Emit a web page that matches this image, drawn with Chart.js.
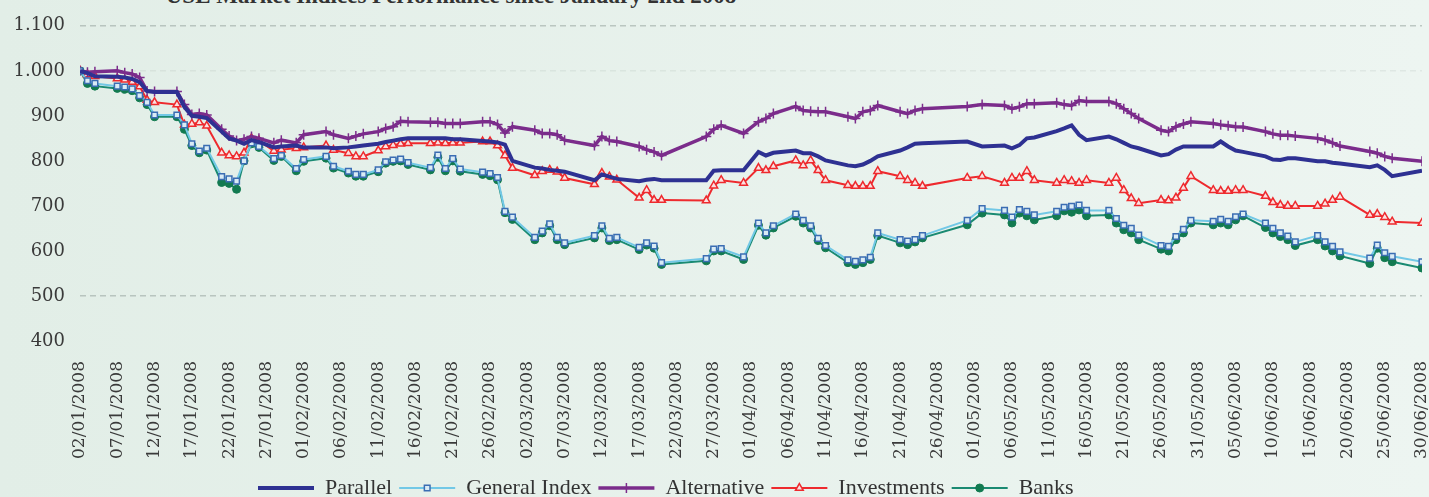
<!DOCTYPE html>
<html lang="en">
<head>
<meta charset="UTF-8">
<title>USE Market Indices Performance</title>
<script src="https://cdn.jsdelivr.net/npm/chart.js"></script>
<style>
  html, body { margin: 0; padding: 0; }
  body {
    width: 1429px; height: 497px; overflow: hidden; position: relative;
    background: linear-gradient(to right, #e2eee7, #edf5f1);
  }
  #title {
    position: absolute; left: 0; top: -16px; width: 902px; text-align: center;
    font: bold 23px 'Liberation Serif', 'Times New Roman', serif; line-height: 23px;
    color: #333; white-space: nowrap;
  }
  #wrap { position: absolute; left: 0; top: 0; width: 1429px; height: 497px; }
</style>
</head>
<body>
<div id="title">USE Market Indices Performance since January 2nd 2008</div>
<div id="wrap"><canvas id="chart" width="1429" height="497"></canvas></div>

<script>
// trading days (dd/mm, 2008)
const tradingDays = [
  '02/01','03/01','04/01','07/01','08/01','09/01','10/01','11/01','12/01','15/01','16/01','17/01','18/01','19/01','21/01','22/01','23/01','24/01','25/01','26/01','28/01','29/01','31/01',
  '01/02','04/02','05/02','07/02','08/02','09/02','11/02','12/02','13/02','14/02','15/02','18/02','19/02','20/02','21/02','22/02','25/02','26/02','27/02','28/02','29/02',
  '03/03','04/03','05/03','06/03','07/03','11/03','12/03','13/03','14/03','17/03','18/03','19/03','20/03','26/03','27/03','28/03','31/03',
  '02/04','03/04','04/04','07/04','08/04','09/04','10/04','11/04','14/04','15/04','16/04','17/04','18/04','21/04','22/04','23/04','24/04','30/04',
  '02/05','05/05','06/05','07/05','08/05','09/05','12/05','13/05','14/05','15/05','16/05','19/05','20/05','21/05','22/05','23/05','26/05','27/05','28/05','29/05','30/05',
  '02/06','03/06','04/06','05/06','06/06','09/06','10/06','11/06','12/06','13/06','16/06','17/06','18/06','19/06','23/06','24/06','25/06','26/06','30/06'
];

const parallel = [
  1000,995,988,987,985,982,975,955,953,953,920,900,898,895,865,850,845,838,846,842,830,832,834,
  830,830,828,830,832,834,838,842,845,848,850,850,850,850,848,848,844,843,841,836,800,
  785,783,780,778,776,757,770,765,760,755,758,760,757,757,778,779,779,
  820,812,818,823,817,817,810,801,790,788,792,800,810,823,830,838,839,843,
  832,834,828,835,850,852,866,872,879,858,846,854,848,840,832,828,812,815,825,832,832,
  832,843,832,823,820,810,803,802,806,806,799,799,796,794,786,790,780,766,778
];

const generalIndex = [
  1000,978,972,966,964,960,945,930,902,902,880,838,822,828,765,760,755,800,840,832,805,812,783,
  803,810,788,777,770,770,780,798,802,804,796,785,813,783,805,782,775,772,763,688,675,
  630,644,660,630,618,634,656,628,630,608,618,611,574,583,604,605,587,
  662,640,656,682,668,656,628,612,580,577,580,586,640,625,622,625,634,668,
  694,690,675,692,688,680,688,697,699,702,690,690,672,657,650,635,612,610,632,648,668,
  666,670,666,676,682,662,650,640,633,620,634,620,610,598,584,613,596,588,576
];

const alternative = [
  1000,997,998,1000,996,993,985,955,954,954,925,903,905,902,870,855,845,848,854,850,840,846,840,
  858,865,858,850,855,860,865,872,876,888,887,886,886,883,883,883,887,887,881,862,876,
  868,861,861,858,846,834,854,845,843,832,825,820,812,854,870,879,861,
  887,894,905,921,912,910,909,909,898,894,909,912,923,909,905,912,916,921,
  925,923,916,920,927,927,929,925,923,934,932,932,927,916,905,894,868,865,876,882,887,
  883,880,878,876,875,865,860,857,857,855,850,846,840,833,821,817,810,806,799
];

const investments = [
  1000,992,988,983,980,975,965,935,930,925,880,882,885,878,818,812,810,818,850,845,822,825,828,
  830,834,824,817,810,810,823,832,835,838,839,839,840,839,840,840,843,843,834,812,784,
  768,777,780,776,762,748,773,765,758,718,735,713,713,712,745,757,751,
  784,779,788,801,790,801,779,757,746,744,744,744,777,766,757,751,744,762,
  766,751,762,762,777,757,751,757,755,751,757,751,762,735,717,706,713,712,718,740,766,
  735,733,733,735,735,722,708,702,700,700,700,705,713,720,680,682,675,665,662
];

const banks = [
  1000,972,966,961,959,956,940,925,898,898,870,834,818,824,752,750,737,800,838,830,801,810,778,
  799,806,784,773,766,766,776,795,799,800,792,780,808,778,800,777,770,767,758,685,670,
  625,640,656,625,614,629,651,623,625,603,613,606,570,578,600,600,581,
  657,635,651,677,662,651,623,607,574,570,574,581,634,618,614,620,629,658,
  684,680,662,684,678,669,678,689,686,691,678,680,662,647,640,625,604,600,625,640,662,
  658,662,658,669,678,652,640,632,625,612,625,611,600,589,572,606,585,576,562
];

const yMin = 400, yMax = 1100, yStep = 100;
const dayMs = 86400000;
const startDate = new Date(2008, 0, 2);

function dayOffset(s) {
  const [d, m] = s.split('/').map(Number);
  return Math.round((new Date(2008, m - 1, d) - startDate) / dayMs);
}
function dayLabel(v) {
  const dt = new Date(2008, 0, 2 + v);
  const dd = String(dt.getDate()).padStart(2, '0');
  const mm = String(dt.getMonth() + 1).padStart(2, '0');
  return dd + '/' + mm + '/' + dt.getFullYear();
}
function yLabel(v) {
  if (v >= 1000) return Math.floor(v / 1000) + '.' + String(v % 1000).padStart(3, '0');
  return String(v);
}
const xs = tradingDays.map(dayOffset);
const pts = arr => arr.map((v, i) => ({ x: xs[i], y: v }));

const serif = "'Liberation Serif', 'Times New Roman', serif";
const axisFont = "'DejaVu Serif', serif";

// shifts legend to the left like the original and draws markers onto the legend lines
const legendTweak = {
  id: 'legendTweak',
  afterLayout(chart) {
    const lg = chart.legend;
    const dx = 258 - (lg.left + lg.options.labels.padding);
    lg.left += dx; lg.right += dx;
    lg.top += 12; lg.bottom += 12;
  },
  afterDraw(chart) {
    const lg = chart.legend, ctx = chart.ctx;
    const bw = lg.options.labels.boxWidth;
    if (!Chart.helpers || !Chart.helpers.drawPoint) return;
    lg.legendHitBoxes.forEach((hb, i) => {
      const ds = chart.data.datasets[i];
      if (!ds.pointRadius) return;
      ctx.save();
      ctx.strokeStyle = ds.pointBorderColor;
      ctx.fillStyle = ds.pointBackgroundColor;
      ctx.lineWidth = ds.pointBorderWidth;
      Chart.helpers.drawPoint(ctx, { pointStyle: ds.pointStyle, radius: ds.pointRadius, borderWidth: ds.pointBorderWidth, rotation: 0 },
        hb.left + bw / 2, hb.top + hb.height / 2);
      ctx.restore();
    });
  }
};

new Chart(document.getElementById('chart'), {
  type: 'line',
  data: {
    datasets: [
      { label: 'Parallel', data: pts(parallel), borderColor: '#2e3192', backgroundColor: '#2e3192',
        borderWidth: 4, pointRadius: 0, tension: 0 },
      { label: 'General Index', data: pts(generalIndex), borderColor: '#72c8e6', backgroundColor: '#72c8e6',
        borderWidth: 2, pointStyle: 'rect', pointRadius: 4, pointBorderWidth: 1.5,
        pointBorderColor: '#3b6db3', pointBackgroundColor: '#d9ebf5' },
      { label: 'Alternative', data: pts(alternative), borderColor: '#7b2c8b', backgroundColor: '#7b2c8b',
        borderWidth: 3.5, pointStyle: 'cross', pointRadius: 5, pointBorderWidth: 1.5,
        pointBorderColor: '#7b2c8b', pointBackgroundColor: '#7b2c8b' },
      { label: 'Investments', data: pts(investments), borderColor: '#ee2a2e', backgroundColor: '#ee2a2e',
        borderWidth: 2, pointStyle: 'triangle', pointRadius: 4.5, pointBorderWidth: 1.5,
        pointBorderColor: '#ee2a2e', pointBackgroundColor: '#fbe1e1' },
      { label: 'Banks', data: pts(banks), borderColor: '#1a8a72', backgroundColor: '#1a8a72',
        borderWidth: 2, pointStyle: 'circle', pointRadius: 4, pointBorderWidth: 1,
        pointBorderColor: '#127a50', pointBackgroundColor: '#127a50' }
    ]
  },
  options: {
    responsive: false,
    animation: false,
    layout: { padding: { top: 22, right: 7, left: 0, bottom: 0 } },
    plugins: {
      legend: {
        position: 'bottom', align: 'start',
        labels: { boxWidth: 56, boxHeight: 0, padding: 7, color: '#333', font: { family: serif, size: 22 } }
      },
      tooltip: { enabled: false }
    },
    scales: {
      x: {
        type: 'linear', min: 0, max: 180,
        afterFit: s => { s.height = 117; s.paddingRight = 0; s.paddingLeft = 0; },
        grid: { display: false },
        border: { display: false },
        ticks: {
          stepSize: 5, autoSkip: false, minRotation: 90, maxRotation: 90, padding: 12,
          color: '#3a3a3a', font: { family: axisFont, size: 17 },
          callback: v => dayLabel(v)
        }
      },
      y: {
        min: yMin, max: yMax,
        afterFit: s => { s.width = 80; },
        border: { display: false, dash: [6, 4] },
        grid: {
          drawTicks: false, lineWidth: 1.5,
          color: c => (c.tick.value === 1100 || c.tick.value === 500) ? 'rgba(150,162,156,0.55)'
                    : (c.tick.value === 1000 ? 'rgba(150,162,156,0.15)' : 'rgba(0,0,0,0)')
        },
        ticks: {
          stepSize: yStep, padding: 15, color: '#3a3a3a', font: { family: axisFont, size: 18 },
          callback: v => yLabel(v)
        }
      }
    }
  },
  plugins: [legendTweak]
});
</script>
</body>
</html>
